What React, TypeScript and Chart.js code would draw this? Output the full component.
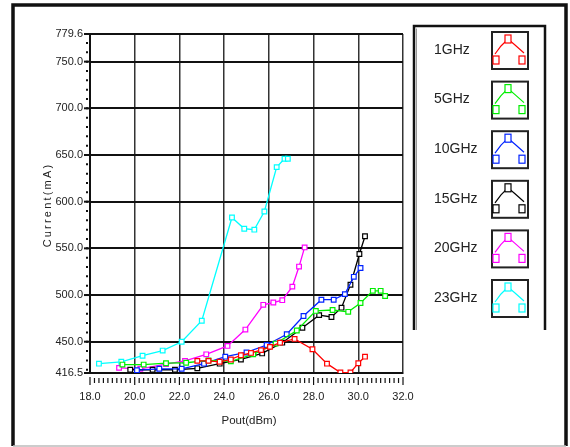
import { useEffect, useRef } from "react";
import { Chart, registerables } from "chart.js";

Chart.register(...registerables);

const seriesLabels = ["1GHz", "5GHz", "10GHz", "15GHz", "20GHz", "23GHz"];
const seriesColors = ["#ff0000", "#00ee00", "#0022ff", "#000000", "#ff00ff", "#00ffff"];

const pout1GHz = [22.8, 23.3, 23.8, 24.3, 24.75, 25.2, 25.65, 26.05, 26.5, 27.15, 27.95, 28.6, 29.2, 29.65, 30.0, 30.3];
const curr1GHz = [429.5, 429.5, 428.5, 431, 435.5, 438, 441, 444.5, 449, 453, 442, 426.5, 417, 417, 427, 434];

const pout5GHz = [19.45, 20.4, 21.4, 22.3, 23.3, 24.3, 25.3, 26.3, 27.25, 28.1, 28.85, 29.55, 30.1, 30.65, 31.0, 31.2];
const curr5GHz = [425.5, 425.5, 427, 427.5, 430, 429, 436.5, 448, 462, 483, 484, 482, 491.5, 504.5, 504.5, 499];

const pout10GHz = [20.1, 21.1, 22.1, 23.1, 24.05, 25.0, 25.9, 26.8, 27.55, 28.35, 28.9, 29.4, 29.8, 30.1];
const curr10GHz = [419.5, 421, 421, 426.5, 434, 438.5, 446.5, 458, 477.5, 495, 495, 501, 519.5, 529];

const pout15GHz = [19.8, 20.8, 21.8, 22.8, 23.8, 24.75, 25.7, 26.6, 27.5, 28.25, 28.8, 29.25, 29.65, 30.05, 30.3];
const curr15GHz = [420, 420, 420, 421.5, 426.5, 431, 437.5, 449, 465, 478.5, 476.5, 486.5, 511, 544, 563];

const pout20GHz = [19.3, 20.25, 21.4, 22.25, 23.2, 24.15, 24.95, 25.75, 26.2, 26.6, 27.05, 27.35, 27.6];
const curr20GHz = [422, 421, 426, 429.5, 436.5, 445.5, 463, 489.5, 492, 494.5, 509, 530.5, 551];

const pout23GHz = [18.4, 19.4, 20.35, 21.25, 22.1, 23.0, 24.35, 24.9, 25.35, 25.8, 26.35, 26.7, 26.85];
const curr23GHz = [426.5, 428.5, 435, 440.5, 450, 472.5, 583, 571, 570, 589.5, 637, 646, 646];

const seriesPout = [pout1GHz, pout5GHz, pout10GHz, pout15GHz, pout20GHz, pout23GHz];
const seriesCurrent = [curr1GHz, curr5GHz, curr10GHz, curr15GHz, curr20GHz, curr23GHz];

const yTickValues = [416.5, 450, 500, 550, 600, 650, 700, 750, 779.6];
const yMinorStep = 10;
const xMin = 18;
const xMax = 32;
const xMajorStep = 2;
const xMinorStep = 0.2;

const xTitle = "Pout(dBm)";
const yTitle = "Current(mA)";

const FONT = "'Liberation Sans', Arial, sans-serif";

const decorPlugin = {
  id: "decor",
  afterDraw(chart: any) {
    const ctx = chart.ctx as CanvasRenderingContext2D;
    const area = chart.chartArea;
    const xs = chart.scales.x;
    const ys = chart.scales.y;
    ctx.save();

    // outer frame
    ctx.strokeStyle = "#111";
    ctx.lineWidth = 3.5;
    ctx.beginPath();
    ctx.moveTo(13, 446);
    ctx.lineTo(13, 5);
    ctx.lineTo(566, 5);
    ctx.lineTo(566, 446);
    ctx.stroke();
    ctx.strokeStyle = "#bbb";
    ctx.lineWidth = 1.5;
    ctx.beginPath();
    ctx.moveTo(13, 446);
    ctx.lineTo(566, 446);
    ctx.stroke();

    // y ticks
    ctx.strokeStyle = "#111";
    ctx.lineWidth = 2;
    const yMin = ys.min;
    const yMax = ys.max;
    for (let v = Math.ceil(yMin / yMinorStep) * yMinorStep; v <= yMax; v += yMinorStep) {
      const py = ys.getPixelForValue(v);
      ctx.beginPath();
      ctx.moveTo(area.left - 4, py);
      ctx.lineTo(area.left - 2, py);
      ctx.stroke();
    }
    for (const v of yTickValues) {
      const py = ys.getPixelForValue(v);
      ctx.beginPath();
      ctx.moveTo(area.left - 6, py);
      ctx.lineTo(area.left - 1, py);
      ctx.stroke();
    }

    // x ticks
    ctx.lineWidth = 1.2;
    const nMinor = Math.round((xMax - xMin) / xMinorStep);
    for (let i = 0; i <= nMinor; i++) {
      const v = xMin + i * xMinorStep;
      const px = xs.getPixelForValue(v);
      const isMajor = i % Math.round(xMajorStep / xMinorStep) === 0;
      ctx.beginPath();
      ctx.moveTo(px, area.bottom + (isMajor ? 4 : 5));
      ctx.lineTo(px, area.bottom + (isMajor ? 12 : 10));
      ctx.stroke();
    }

    // axis titles
    ctx.fillStyle = "#222";
    ctx.font = `11.5px ${FONT}`;
    ctx.textAlign = "center";
    ctx.textBaseline = "middle";
    ctx.fillText(xTitle, 249, 421);

    ctx.save();
    ctx.translate(48, 205);
    ctx.rotate(-Math.PI / 2);
    ctx.font = `11px ${FONT}`;
    (ctx as any).letterSpacing = "2.2px";
    ctx.fillText(yTitle, 0, 0);
    ctx.restore();

    // legend box
    ctx.strokeStyle = "#999";
    ctx.lineWidth = 1;
    ctx.beginPath();
    ctx.moveTo(416.5, 330);
    ctx.lineTo(416.5, 28.5);
    ctx.stroke();
    ctx.strokeStyle = "#111";
    ctx.lineWidth = 2.5;
    ctx.beginPath();
    ctx.moveTo(414, 330);
    ctx.lineTo(414, 26);
    ctx.lineTo(545, 26);
    ctx.lineTo(545, 330);
    ctx.stroke();

    for (let i = 0; i < seriesLabels.length; i++) {
      const cy = 50 + i * 49.6;
      ctx.fillStyle = "#222";
      ctx.font = `14px ${FONT}`;
      ctx.textAlign = "left";
      ctx.textBaseline = "middle";
      ctx.fillText(seriesLabels[i], 434, cy);

      const bx = 492;
      const by = cy - 18;
      ctx.strokeStyle = "#222";
      ctx.lineWidth = 2;
      ctx.strokeRect(bx, by, 36, 37);

      const col = seriesColors[i];
      ctx.strokeStyle = col;
      ctx.lineWidth = 1.2;
      ctx.beginPath();
      ctx.moveTo(bx + 3, by + 22);
      ctx.lineTo(bx + 9, by + 14);
      ctx.lineTo(bx + 16, by + 7);
      ctx.lineTo(bx + 23, by + 13);
      ctx.lineTo(bx + 32, by + 21);
      ctx.stroke();
      const marks = [
        [bx + 4, by + 28],
        [bx + 16, by + 7],
        [bx + 30, by + 28],
      ];
      for (const [mx, my] of marks) {
        ctx.fillStyle = "#fff";
        ctx.fillRect(mx - 3, my - 4, 6, 8);
        ctx.strokeRect(mx - 3, my - 4, 6, 8);
      }
    }

    ctx.restore();
  },
};

export default function App() {
  const canvasRef = useRef<HTMLCanvasElement | null>(null);

  useEffect(() => {
    const canvas = canvasRef.current;
    if (!canvas) return;
    const datasets = seriesLabels.map((label, i) => ({
      label,
      data: seriesPout[i].map((x, j) => ({ x, y: seriesCurrent[i][j] })),
      borderColor: seriesColors[i],
      backgroundColor: "#ffffff",
      pointBorderColor: seriesColors[i],
      pointBackgroundColor: "#ffffff",
      pointStyle: "rect" as const,
      pointRadius: 3.3,
      pointBorderWidth: 1.2,
      borderWidth: 1.3,
      showLine: true,
      tension: 0,
    }));

    const chart = new Chart(canvas, {
      type: "scatter",
      data: { datasets },
      plugins: [decorPlugin],
      options: {
        animation: false,
        responsive: false,
        maintainAspectRatio: false,
        layout: { padding: { left: 0, top: 34, right: 167, bottom: 0 } },
        plugins: {
          legend: { display: false },
          tooltip: { enabled: false },
          title: { display: false },
        },
        scales: {
          x: {
            type: "linear",
            min: xMin,
            max: xMax,
            afterFit: (scale: any) => {
              scale.height = 74;
            },
            ticks: {
              stepSize: xMajorStep,
              padding: 17,
              color: "#222",
              font: { family: FONT, size: 11 },
              maxRotation: 0,
              callback: (v: any) => Number(v).toFixed(1),
            },
            grid: {
              color: "#333",
              lineWidth: 1.5,
              drawTicks: false,
            },
            border: { display: true, color: "#111", width: 2 },
          },
          y: {
            type: "linear",
            min: yTickValues[0],
            max: yTickValues[yTickValues.length - 1],
            afterFit: (scale: any) => {
              scale.width = 90;
            },
            afterBuildTicks: (scale: any) => {
              scale.ticks = yTickValues.map((v) => ({ value: v }));
            },
            ticks: {
              padding: 7,
              color: "#222",
              font: { family: FONT, size: 11 },
              autoSkip: false,
              callback: (v: any) => Number(v).toFixed(1),
            },
            grid: {
              color: "#111",
              lineWidth: 2,
              drawTicks: false,
            },
            border: { display: true, color: "#111", width: 2 },
          },
        },
      },
    });
    return () => chart.destroy();
  }, []);

  return (
    <div style={{ position: "absolute", left: 0, top: 0, width: 570, height: 447, background: "#fff" }}>
      <canvas ref={canvasRef} width={570} height={447} style={{ width: 570, height: 447, display: "block" }} />
    </div>
  );
}
